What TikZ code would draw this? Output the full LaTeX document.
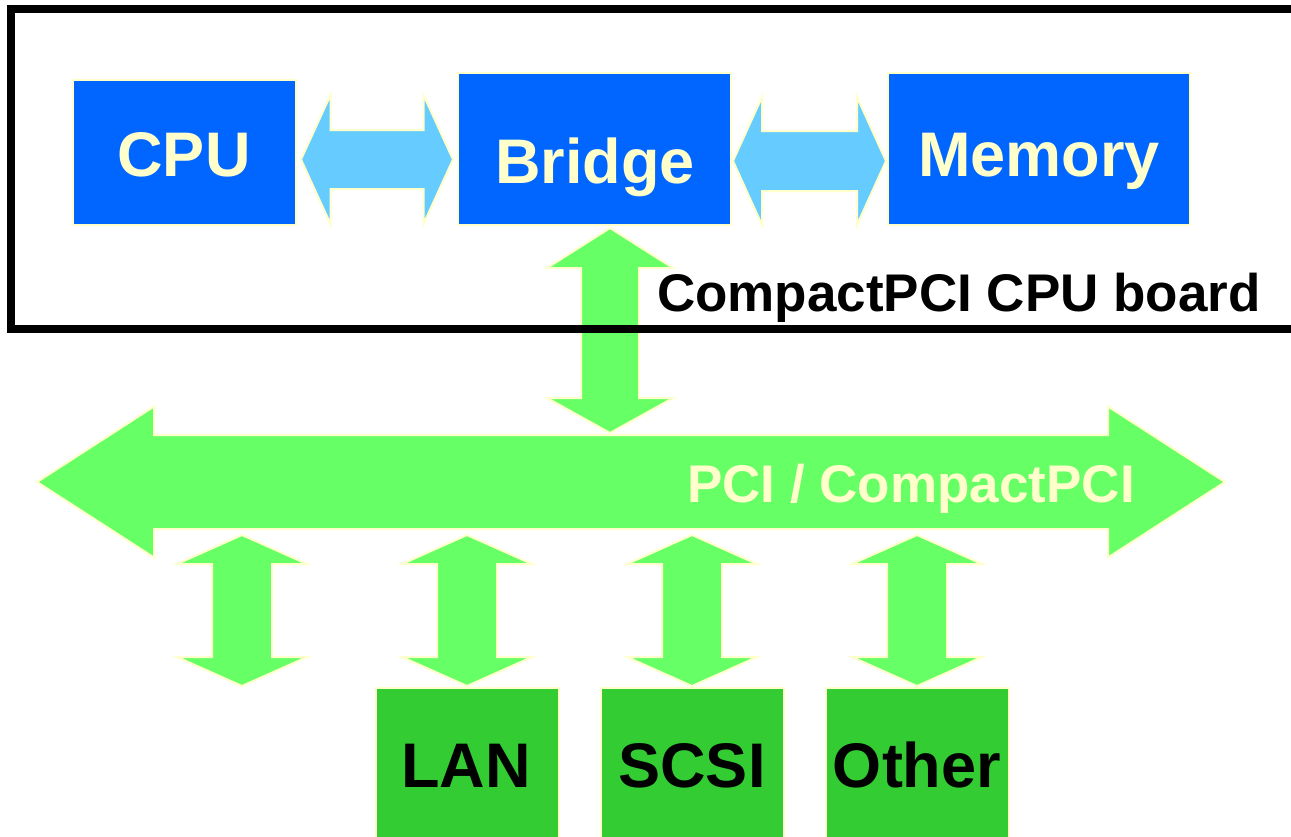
\documentclass[tikz,border=0pt]{standalone}
\usepackage{fontspec}
\setmainfont{Liberation Sans}
\definecolor{cpublue}{HTML}{0066FF}
\definecolor{lblue}{HTML}{66CCFF}
\definecolor{lgreen}{HTML}{66FF66}
\definecolor{dgreen}{HTML}{33CC33}
\definecolor{lyellow}{HTML}{FFFFCC}
% horizontal double arrow: x1 x2 y headhalf shafthalf headlen style
\newcommand\hdarrow[7]{\filldraw[#7] (#1,#3) -- (#1+#6,#3-#4) -- (#1+#6,#3-#5) -- (#2-#6,#3-#5) -- (#2-#6,#3-#4) -- (#2,#3) -- (#2-#6,#3+#4) -- (#2-#6,#3+#5) -- (#1+#6,#3+#5) -- (#1+#6,#3+#4) -- cycle;}
% vertical double arrow: x y1 y2 headhalf shafthalf headlen1 headlen2 style
\newcommand\vdarrow[8]{\filldraw[#8] (#1,#2) -- (#1+#4,#2+#6) -- (#1+#5,#2+#6) -- (#1+#5,#3-#7) -- (#1+#4,#3-#7) -- (#1,#3) -- (#1-#4,#3-#7) -- (#1-#5,#3-#7) -- (#1-#5,#2+#6) -- (#1-#4,#2+#6) -- cycle;}
\tikzset{
  board/.style={draw=cpublue!0, fill=cpublue, draw=lyellow, line width=2pt, inner sep=0pt},
  card/.style={fill=dgreen, draw=lyellow, line width=2pt, inner sep=0pt},
  bigtxt/.style={font=\fontsize{63}{63}\selectfont\bfseries, inner sep=0pt, anchor=base},
  midtxt/.style={font=\fontsize{53}{53}\selectfont\bfseries, inner sep=0pt, anchor=base west},
  blarrow/.style={fill=lblue, draw=lyellow, line width=2pt, line join=miter},
  grarrow/.style={fill=lgreen, draw=lyellow, line width=2pt, line join=miter},
  frame/.style={draw=black, line width=8pt}
}
\begin{document}
\begin{tikzpicture}[x=1pt,y=-1pt]
\useasboundingbox (0,0) rectangle (1291,836);
\clip (0,0) rectangle (1291,836);
\fill[white] (0,0) rectangle (1291,836);
% boxes on CPU board
\node[board, minimum width=223pt, minimum height=145pt] (cpu) at (184.5,152.5) {};
\node[board, minimum width=273pt, minimum height=152pt] (bridge) at (594.5,149) {};
\node[board, minimum width=302pt, minimum height=152pt] (mem) at (1039,149) {};
\node[bigtxt, text=lyellow] (cputxt) at (184,176) {CPU};
\node[bigtxt, text=lyellow] (bridgetxt) at (595,183) {Bridge};
\node[bigtxt, text=lyellow] (memtxt) at (1039,176) {Memory};
% arrows on board
\hdarrow{301}{453}{159.5}{64.5}{29.5}{29.5}{blarrow}
\hdarrow{733}{886}{161}{64}{30}{29}{blarrow}
% bridge to bus
\vdarrow{610}{228}{433}{63}{29}{40}{35}{grarrow}
% board frame
\draw[frame] (11,9) rectangle (1320,329);
\node[midtxt] (boardtxt) at (657,311) {CompactPCI CPU board};
% bus
\hdarrow{37}{1225}{482}{75.5}{47}{117}{grarrow}
\node[midtxt, text=lyellow] (bustxt) at (687,502) {PCI / CompactPCI};
% slot arrows
\vdarrow{242}{535}{686}{65}{30}{29}{29}{grarrow}
\vdarrow{467}{535}{686}{65}{30}{29}{29}{grarrow}
\vdarrow{692}{535}{686}{65}{30}{29}{29}{grarrow}
\vdarrow{917}{535}{686}{65}{30}{29}{29}{grarrow}
% cards
\node[card, minimum width=183pt, minimum height=180pt, anchor=north west] (lan) at (375,687) {};
\node[card, minimum width=183pt, minimum height=180pt, anchor=north west] (scsi) at (600,687) {};
\node[card, minimum width=183pt, minimum height=180pt, anchor=north west] (other) at (825,687) {};
\node[bigtxt] (lantxt) at (466,787) {LAN};
\node[bigtxt] (scsitxt) at (692,787) {SCSI};
\node[bigtxt] (othertxt) at (917,787) {Other};
\end{tikzpicture}
\end{document}
